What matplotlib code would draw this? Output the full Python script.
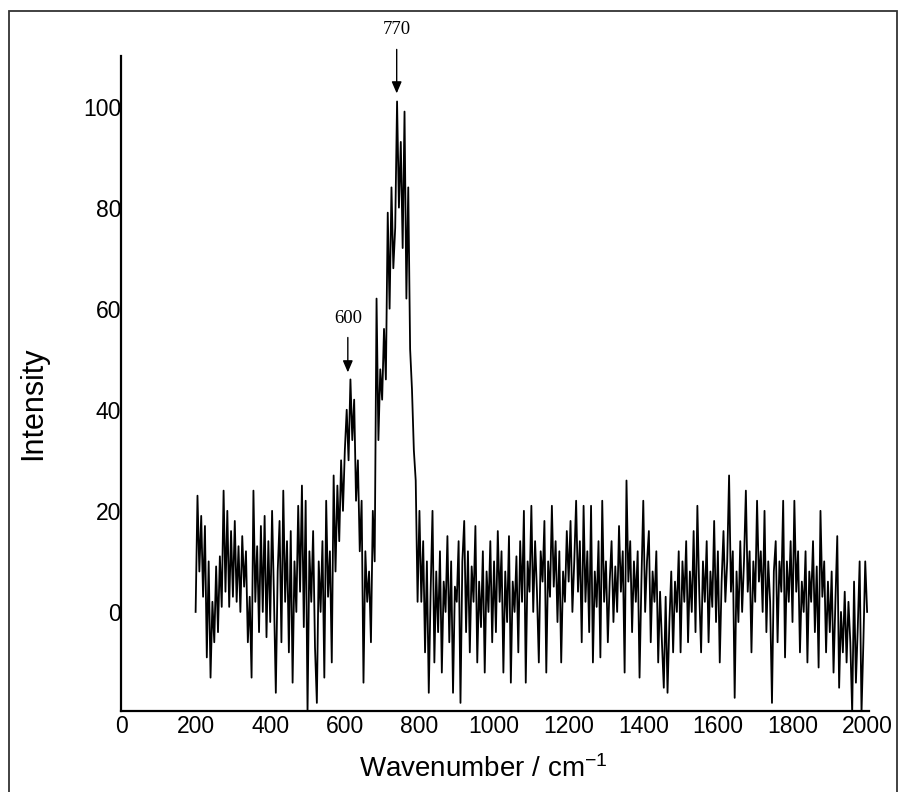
import numpy as np
import matplotlib
matplotlib.use("Agg")
import matplotlib.pyplot as plt
from matplotlib.patches import Rectangle

# Raman spectrum, one value every 5 cm-1 from 200 to 2000
wn_start, wn_step = 200, 5
intensity = [
    # 200-295
    0, 23, 8, 19, 3, 17, -9, 10, -13, 2, -6, 9, -4, 11, 1, 24, 4, 20, 1, 16,
    # 300-395
    3, 18, 2, 13, 0, 15, 5, 12, -6, 3, -13, 24, 2, 13, -4, 17, 0, 19, -5, 14,
    # 400-495
    -2, 20, 3, -16, 8, 18, -6, 24, 2, 14, -8, 16, -14, 10, 0, 21, 4, 25, -3, 22,
    # 500-595
    -20, 12, 2, 16, -7, -18, 10, 0, 14, -13, 22, 3, 12, -10, 27, 8, 25, 14, 30, 20,
    # 600-695
    32, 40, 30, 46, 34, 42, 22, 30, 12, 22, -14, 12, 2, 8, -6, 20, 10, 62, 34, 48,
    # 700-795
    42, 56, 46, 79, 60, 84, 68, 76, 101, 80, 93, 72, 99, 62, 84, 52, 44, 32, 26, 2,
    # 800-895
    20, 2, 14, -8, 10, -16, 4, 20, -10, 8, -4, 12, -12, 6, 0, 15, -6, 10, -16, 5,
    # 900-995
    2, 14, -18, 10, 18, -4, 12, -8, 9, 2, 17, -10, 6, -3, 12, -12, 8, 0, 14, -6,
    # 1000-1095
    10, -4, 16, 2, 12, -12, 8, -2, 15, -14, 6, 0, 11, -8, 14, 2, 20, -14, 10, 4,
    # 1100-1195
    21, 0, 14, 4, -10, 12, 6, 18, -12, 10, 3, 21, 5, 14, -2, 12, -10, 8, 2, 16,
    # 1200-1295
    6, 18, 0, 10, 22, 4, 14, -6, 21, 2, 12, -4, 21, -10, 8, 1, 14, -9, 22, 2,
    # 1300-1395
    10, -6, 6, 14, -2, 9, 0, 17, 4, 12, -12, 26, 6, 14, -4, 10, 2, 12, -13, 6,
    # 1400-1495
    22, 0, 10, 16, -6, 8, 2, 12, -10, 4, -6, -15, 3, -16, -2, 8, -8, 6, 0, 12,
    # 1500-1595
    -8, 10, 2, 14, -6, 8, 0, 16, -4, 21, 4, -8, 10, 2, 14, -6, 8, 1, 18, -2,
    # 1600-1695
    12, -10, 6, 16, 2, 10, 27, 4, 12, -17, 8, -2, 14, 0, 10, 24, 4, 12, -8, 10,
    # 1700-1795
    2, 22, 6, 12, 0, 20, -4, 10, 2, -18, 8, 14, -6, 10, 4, 22, -9, 10, 2, 14,
    # 1800-1895
    -2, 22, 4, 12, -8, 6, 0, 12, -10, 8, 2, 14, -4, 9, -11, 20, 3, 10, -8, 6,
    # 1900-2000
    -4, 8, -12, 2, 15, -15, 0, -8, 4, -10, 2, -6, -20, 6, -14, -3, 10, -20, -6, 10,
    0,
]
wavenumber = wn_start + wn_step * np.arange(len(intensity))

peak_labels = ["600", "770"]
peak_pos = [608, 739]          # where the arrows sit on the drawn axis
peak_tip = [47.4, 102.6]
peak_tail = [54.3, 111.3]
peak_text_y = [58.1, 115.3]

x_ticks = list(range(0, 2001, 200))
y_ticks = [0, 20, 40, 60, 80, 100]

plt.rcParams["font.family"] = ["Liberation Sans", "DejaVu Sans"]
plt.rcParams["mathtext.fontset"] = "custom"
plt.rcParams["mathtext.rm"] = "Liberation Sans"
plt.rcParams["mathtext.default"] = "regular"

fig = plt.figure(figsize=(8.99, 7.92), dpi=100)
ax = fig.add_axes([0.1346, 0.1023, 0.832, 0.827])

ax.plot(wavenumber, intensity, color="black", lw=1.3)

ax.set_xlim(0, 2005)
ax.set_ylim(-19.6, 110)
ax.set_xticks(x_ticks)
ax.set_yticks(y_ticks)
ax.tick_params(axis="both", length=0, labelsize=16.5)
ax.tick_params(axis="y", pad=0)
ax.tick_params(axis="x", pad=3)
ax.spines[["top", "right"]].set_visible(False)
for s in ("left", "bottom"):
    ax.spines[s].set_linewidth(1.6)

ax.set_xlabel("Wavenumber / cm$^{-1}$", fontsize=20)
ax.xaxis.set_label_coords(0.484, -0.068)
ax.set_ylabel("Intensity", fontsize=22)
ax.yaxis.set_label_coords(-0.098, 0.47)

for lab, xp, tip, tail, ty in zip(peak_labels, peak_pos, peak_tip,
                                  peak_tail, peak_text_y):
    ax.annotate("", xy=(xp, tip), xytext=(xp, tail), annotation_clip=False,
                arrowprops=dict(arrowstyle="-|>,head_length=0.7,head_width=0.3",
                                color="black", lw=1.0, shrinkA=0, shrinkB=0))
    ax.text(xp, ty, lab, ha="center", va="center", fontsize=13.5,
            family=["Liberation Serif", "DejaVu Serif"], clip_on=False)

# thin frame round the whole picture
fig.add_artist(Rectangle((9 / 899, -0.02), 888 / 899, 1.006, fill=False,
                         transform=fig.transFigure, lw=1.3, ec="#333333"))

fig.savefig("out.png", dpi=100)
